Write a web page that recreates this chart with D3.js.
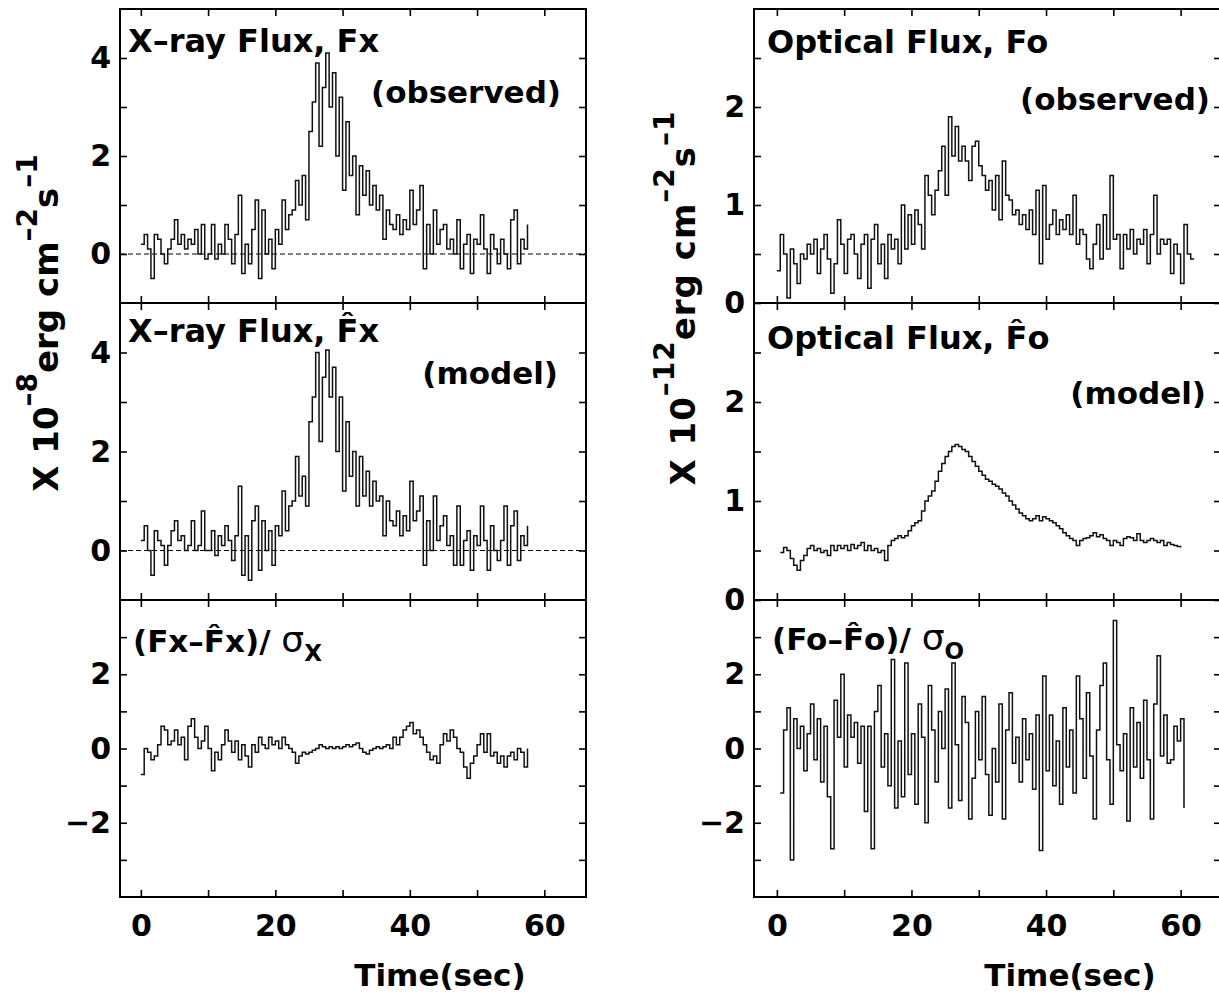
<!DOCTYPE html>
<html><head><meta charset="utf-8">
<script src="https://cdn.jsdelivr.net/npm/d3@7"></script>
<style>body{margin:0;background:#fff}svg{display:block}</style>
</head><body><svg id="c" width="1219" height="998"></svg>
<script>
// ---- data (0.5 s bins) ----
const binWidth = 0.5;
const xTicks = [0, 10, 20, 30, 40, 50, 60];
const xTickLabels = [0, 20, 40, 60];

// X-ray flux observed, t = 0 ... 57.5
const xObs = [
 0.2, 0.4, 0.1, -0.5, 0.4, 0.3, 0.0, -0.2, 0.1, 0.3,
 0.7, 0.2, 0.4, 0.1, 0.3, 0.2, 0.5, 0.0, 0.6, -0.1,
 0.0, 0.6, -0.1, 0.2, 0.0, 0.6, 0.3, -0.2, 0.4, 1.2,
 -0.4, 0.2, -0.2, 0.5, 1.1, -0.5, 0.9, 0.0, 0.3, -0.3,
 0.5, 0.2, 1.1, 0.5, 0.8, 0.9, 1.5, 1.0, 1.6, 0.7,
 2.5, 3.1, 3.9, 2.2, 3.4, 4.1, 3.0, 3.7, 2.0, 3.2,
 1.3, 2.7, 1.6, 2.0, 0.8, 1.8, 1.2, 1.7, 1.0, 1.4,
 0.9, 1.2, 0.3, 0.9, 0.6, 0.5, 0.8, 0.4, 0.7, 0.5,
 1.3, 0.6, 0.9, 1.4, -0.3, 0.6, 0.0, 0.9, 0.2, 0.5,
 0.6, 0.1, 0.3, 0.0, 0.7, -0.3, 0.2, 0.4, -0.4, 0.3,
 0.2, 0.8, 0.1, -0.4, 0.4, 0.1, -0.2, 0.3, 0.0, -0.3,
 0.7, 0.9, -0.2, 0.3, 0.1, 0.6
];
// X-ray flux model
const xMod = [
 0.2, 0.5, 0.0, -0.5, 0.4, 0.2, 0.1, -0.3, 0.1, 0.4,
 0.6, 0.2, 0.3, 0.0, 0.1, 0.6, 0.0, 0.1, 0.8, 0.0,
 0.0, 0.4, -0.1, 0.3, 0.1, 0.5, 0.2, -0.2, 0.3, 1.3,
 -0.5, 0.3, -0.6, 0.6, 0.9, -0.4, 0.6, 0.0, 0.4, -0.3,
 0.5, 0.3, 1.2, 0.4, 0.9, 1.0, 1.9, 1.1, 1.5, 0.9,
 2.6, 3.1, 4.0, 2.2, 3.5, 4.05, 3.1, 3.7, 2.0, 3.1,
 1.2, 2.6, 1.5, 2.0, 0.9, 1.9, 1.1, 1.6, 0.9, 1.4,
 1.0, 1.1, 0.3, 1.0, 0.6, 0.5, 0.8, 0.3, 0.7, 0.4,
 1.4, 0.6, 0.8, 1.1, -0.3, 0.6, 0.0, 1.1, 0.2, 0.5,
 0.7, 0.1, 0.3, -0.3, 0.9, -0.3, 0.2, 0.4, -0.4, 0.3,
 0.1, 0.9, 0.2, -0.4, 0.5, 0.0, -0.2, 0.2, 0.9, -0.3,
 0.5, 0.8, -0.2, 0.3, 0.1, 0.5
];
// X-ray residual (Fx - Fx^)/sigma
const xRes = [
 -0.7, 0.0, -0.1, -0.3, -0.2, 0.1, 0.6, 0.5, 0.1, 0.2,
 0.5, 0.1, 0.3, -0.3, 0.6, 0.8, 0.3, 0.0, 0.2, 0.6,
 0.0, -0.6, -0.1, -0.3, 0.1, 0.5, 0.2, -0.1, 0.2, -0.3,
 0.1, -0.2, -0.5, 0.1, -0.1, 0.3, 0.1, 0.0, 0.3, 0.1,
 0.2, 0.0, 0.3, 0.1, 0.0, -0.1, -0.4, -0.2, -0.1, -0.15,
 -0.1, -0.05, 0.0, 0.1, 0.05, 0.0, 0.05, 0.0, 0.05, 0.0,
 0.05, 0.1, 0.05, 0.1, 0.15, 0.0, -0.1, -0.15, -0.05, 0.0,
 0.05, 0.0, 0.05, 0.1, 0.0, 0.3, 0.1, 0.3, 0.5, 0.6,
 0.7, 0.4, 0.5, 0.3, 0.1, -0.1, -0.3, -0.2, -0.4, 0.1,
 0.4, 0.2, 0.5, 0.3, 0.0, -0.1, -0.5, -0.8, -0.4, -0.2,
 0.1, 0.4, -0.1, 0.4, -0.2, -0.1, -0.4, -0.2, -0.5, -0.2,
 -0.1, -0.3, 0.0, -0.1, -0.5, 0.0
];
// Optical flux observed, t = 0 ... 62
const oObs = [
 0.33, 0.7, 0.5, 0.05, 0.55, 0.4, 0.2, 0.5, 0.45, 0.6,
 0.5, 0.65, 0.3, 0.55, 0.7, 0.45, 0.1, 0.4, 0.85, 0.6,
 0.3, 0.65, 0.7, 0.5, 0.25, 0.6, 0.7, 0.15, 0.65, 0.8,
 0.4, 0.6, 0.25, 0.7, 0.55, 0.65, 0.4, 1.0, 0.55, 0.9,
 0.6, 0.95, 0.8, 0.55, 1.3, 1.1, 0.9, 1.15, 1.35, 1.6,
 1.1, 1.9, 1.5, 1.8, 1.45, 1.6, 1.45, 1.25, 1.6, 1.65,
 1.4, 1.3, 1.15, 1.25, 0.95, 1.3, 0.85, 1.45, 1.1, 1.05,
 0.9, 0.95, 0.8, 0.9, 0.75, 0.95, 0.7, 1.15, 0.4, 1.2,
 0.65, 0.8, 0.95, 0.7, 0.85, 0.75, 0.9, 0.7, 1.1, 0.6,
 0.75, 0.7, 0.45, 0.35, 0.6, 0.8, 0.45, 0.9, 0.55, 1.3,
 0.65, 0.7, 0.35, 0.7, 0.55, 0.75, 0.5, 0.65, 0.6, 0.75,
 0.4, 0.7, 1.1, 0.5, 0.65, 0.6, 0.65, 0.3, 0.6, 0.5,
 0.2, 0.8, 0.5, 0.45, 0.45
];
// Optical flux model, t = 0.5 ... 60
const oMod = [
 0.48, 0.53, 0.5, 0.42, 0.35, 0.3, 0.4, 0.45, 0.52,
 0.55, 0.5, 0.52, 0.48, 0.5, 0.45, 0.55, 0.5, 0.55, 0.52,
 0.55, 0.5, 0.56, 0.52, 0.55, 0.58, 0.5, 0.55, 0.5, 0.52,
 0.48, 0.5, 0.4, 0.55, 0.6, 0.62, 0.65, 0.63, 0.65, 0.7,
 0.75, 0.78, 0.8, 0.9, 1.0, 1.05, 1.1, 1.2, 1.3, 1.38,
 1.45, 1.5, 1.55, 1.57, 1.55, 1.52, 1.5, 1.45, 1.4, 1.35,
 1.3, 1.26, 1.22, 1.2, 1.17, 1.15, 1.12, 1.08, 1.05, 1.0,
 0.96, 0.92, 0.88, 0.85, 0.82, 0.8, 0.82, 0.85, 0.8, 0.84,
 0.82, 0.8, 0.78, 0.75, 0.72, 0.68, 0.65, 0.62, 0.6, 0.55,
 0.6, 0.62, 0.63, 0.65, 0.68, 0.64, 0.66, 0.62, 0.6, 0.55,
 0.6, 0.58, 0.55, 0.62, 0.64, 0.63, 0.6, 0.67, 0.6, 0.58,
 0.6, 0.62, 0.6, 0.58, 0.6, 0.55, 0.58, 0.56, 0.55, 0.54, 0.53
];
// Optical residual (Fo - Fo^)/sigma, t = 0.5 ... 60.5
const oRes = [
 -1.2, 0.5, 1.1, -3.0, 0.8, 0.0, 0.6, -0.6, 0.4,
 1.2, -0.3, 0.8, -0.9, 0.6, -1.3, -2.7, 1.3, 0.3, 2.0,
 -0.5, 0.9, 0.3, 0.7, -0.4, 0.6, -1.7, 0.6, -2.7, 1.0,
 1.7, -0.5, 0.4, -1.0, 2.4, -1.6, 0.2, -1.3, 2.3, -0.7,
 0.4, -1.5, 1.2, 0.3, -2.0, 1.7, 0.5, -0.9, 1.0, 0.0,
 1.6, -1.6, 2.3, 0.1, -1.4, 1.4, 0.7, -1.9, -0.8, 1.0,
 -0.3, 1.4, -0.7, -1.8, 0.0, -0.9, 1.2, -1.9, 0.5, 1.5,
 -0.4, 0.3, -0.9, 0.8, -0.3, 0.4, -1.1, 0.9, -2.75, 1.95,
 -0.6, 0.9, -1.0, 0.2, -1.5, 1.1, -0.5, 0.5, -1.2, 1.95,
 0.8, -0.8, 1.5, -0.2, -1.9, 0.5, 1.7, 2.3, -0.3, -1.5,
 3.45, 0.1, -0.6, 0.4, -1.95, 1.1, -0.5, 0.7, -0.8, 1.3,
 -0.3, -1.9, 1.2, 2.5, -0.2, 0.9, -0.4, -0.3, 0.6, 0.2,
 0.8, -1.6
];

// ---- layout ----
const svg = d3.select('#c');
const FONT = "'DejaVu Sans', sans-serif";
const cols = [
  {x0: 120, x1: 586, dom: [-3.1, 66.2]},
  {x0: 754, x1: 1221, dom: [-3.4, 66.0]}
];
const rows = [[9, 303], [303, 600], [600, 897]];

const fluxXTicks = [0, 1, 2, 3, 4], fluxXLabels = [0, 2, 4];
const fluxOTicks = [0, 0.5, 1, 1.5, 2, 2.5], fluxOLabels = [0, 1, 2];
const resTicks = [-3, -2, -1, 0, 1, 2, 3], resLabels = [-2, 0, 2];

const panels = [
  {c:0, r:0, dom:[-1,5], ticks:fluxXTicks, labels:fluxXLabels, data:xObs, t0:0, dash:true},
  {c:0, r:1, dom:[-1,5], ticks:fluxXTicks, labels:fluxXLabels, data:xMod, t0:0, dash:true},
  {c:0, r:2, dom:[-4,4], ticks:resTicks,   labels:resLabels,   data:xRes, t0:0},
  {c:1, r:0, dom:[0,3],  ticks:fluxOTicks, labels:fluxOLabels, data:oObs, t0:0},
  {c:1, r:1, dom:[0,3],  ticks:fluxOTicks, labels:fluxOLabels, data:oMod, t0:0.5},
  {c:1, r:2, dom:[-4,4], ticks:resTicks,   labels:resLabels,   data:oRes, t0:0.5}
];

const fmt = d3.format('');
panels.forEach(p => {
  const col = cols[p.c], row = rows[p.r];
  const x = d3.scaleLinear().domain(col.dom).range([col.x0, col.x1]);
  const y = d3.scaleLinear().domain(p.dom).range([row[1], row[0]]);
  const g = svg.append('g');

  if (p.dash) {
    g.append('line').attr('x1', col.x0).attr('x2', col.x1)
      .attr('y1', y(0)).attr('y2', y(0))
      .attr('stroke', '#000').attr('stroke-width', 1.1).attr('stroke-dasharray', '5,3');
  }
  const pts = p.data.map((v, i) => [p.t0 + i * binWidth, v]);
  const line = d3.line().x(d => x(d[0])).y(d => y(d[1])).curve(d3.curveStepAfter);
  g.append('path').datum(pts).attr('d', line)
    .attr('fill', 'none').attr('stroke', '#111').attr('stroke-width', 1.5);

  const styleAxis = a => {
    a.select('.domain').remove();
    a.selectAll('.tick line').attr('stroke', '#000').attr('stroke-width', 1.6);
    a.selectAll('text').attr('font-family', FONT).attr('font-size', 30)
      .attr('font-weight', 'bold').attr('fill', '#000');
  };
  g.append('g').attr('transform', `translate(${col.x0},0)`)
    .call(d3.axisLeft(y).tickValues(p.ticks).tickSize(-7).tickPadding(9)
      .tickFormat(d => p.labels.includes(d) ? fmt(d) : ''))
    .call(styleAxis);
  g.append('g').attr('transform', `translate(${col.x1},0)`)
    .call(d3.axisRight(y).tickValues(p.ticks).tickSize(-7).tickFormat(''))
    .call(styleAxis);
  g.append('g').attr('transform', `translate(0,${row[0]})`)
    .call(d3.axisTop(x).tickValues(xTicks).tickSize(-7).tickFormat(''))
    .call(styleAxis);
  g.append('g').attr('transform', `translate(0,${row[1]})`)
    .call(d3.axisBottom(x).tickValues(xTicks).tickSize(-7).tickPadding(18)
      .tickFormat(d => (p.r === 2 && xTickLabels.includes(d)) ? fmt(d) : ''))
    .call(styleAxis);

  g.append('rect').attr('x', col.x0).attr('y', row[0])
    .attr('width', col.x1 - col.x0).attr('height', row[1] - row[0])
    .attr('fill', 'none').attr('stroke', '#000').attr('stroke-width', 2);
});

// ---- texts ----
function addText(x, y, parts, anchor, size) {
  const t = svg.append('text').attr('x', x).attr('y', y)
    .attr('font-family', FONT).attr('font-weight', 'bold').attr('font-size', size || 31)
    .attr('fill', '#000').attr('text-anchor', anchor || 'start');
  parts.forEach(pt => {
    const s = t.append('tspan').text(pt.t);
    if (pt.size) s.attr('font-size', pt.size);
    if (pt.dy) s.attr('dy', pt.dy);
    if (pt.w) s.attr('font-weight', pt.w);
  });
  return t;
}
addText(128, 52, [{t: 'X\u2013ray Flux, Fx'}], 'start', 32);
addText(561, 103, [{t: '(observed)'}], 'end');
addText(128, 342, [{t: 'X\u2013ray Flux, F\u0302x'}], 'start', 32);
addText(558, 384, [{t: '(model)'}], 'end');
addText(133, 652, [{t: '(Fx\u2013F\u0302x)/ '}, {t: '\u03c3', w: 'normal', size: 36}, {t: 'X', size: 23, dy: 9}], 'start', 31);

addText(767, 53, [{t: 'Optical Flux, Fo'}], 'start', 32);
addText(1210, 110, [{t: '(observed)'}], 'end');
addText(767, 349, [{t: 'Optical Flux, F\u0302o'}], 'start', 32);
addText(1206, 404, [{t: '(model)'}], 'end');
addText(772, 650, [{t: '(Fo\u2013F\u0302o)/ '}, {t: '\u03c3', w: 'normal', size: 36}, {t: 'O', size: 23, dy: 9}], 'start', 31);

// axis titles
addText(440, 986, [{t: 'Time(sec)'}], 'middle');
addText(1070, 986, [{t: 'Time(sec)'}], 'middle');

function yTitle(xb, cy, exp, spacing) {
  const t = svg.append('text')
    .attr('transform', `translate(${xb},${cy}) rotate(-90)`)
    .attr('text-anchor', 'middle')
    .attr('letter-spacing', spacing)
    .attr('font-family', FONT).attr('font-weight', 'bold').attr('font-size', 34).attr('fill', '#000');
  const parts = [
    {t: 'X 10'}, {t: '\u2013' + exp, sup: true}, {t: 'erg cm'}, {t: '\u20132', sup: true},
    {t: 's'}, {t: '\u20131', sup: true}
  ];
  let raised = false;
  parts.forEach(pt => {
    const s = t.append('tspan').text(pt.t);
    if (pt.sup) { s.attr('font-size', 28).attr('dy', -21); raised = true; }
    else if (raised) { s.attr('dy', 21); raised = false; }
  });
}
yTitle(58, 323, '8', 0);
yTitle(695, 298, '12', 1);
</script>
</body></html>
